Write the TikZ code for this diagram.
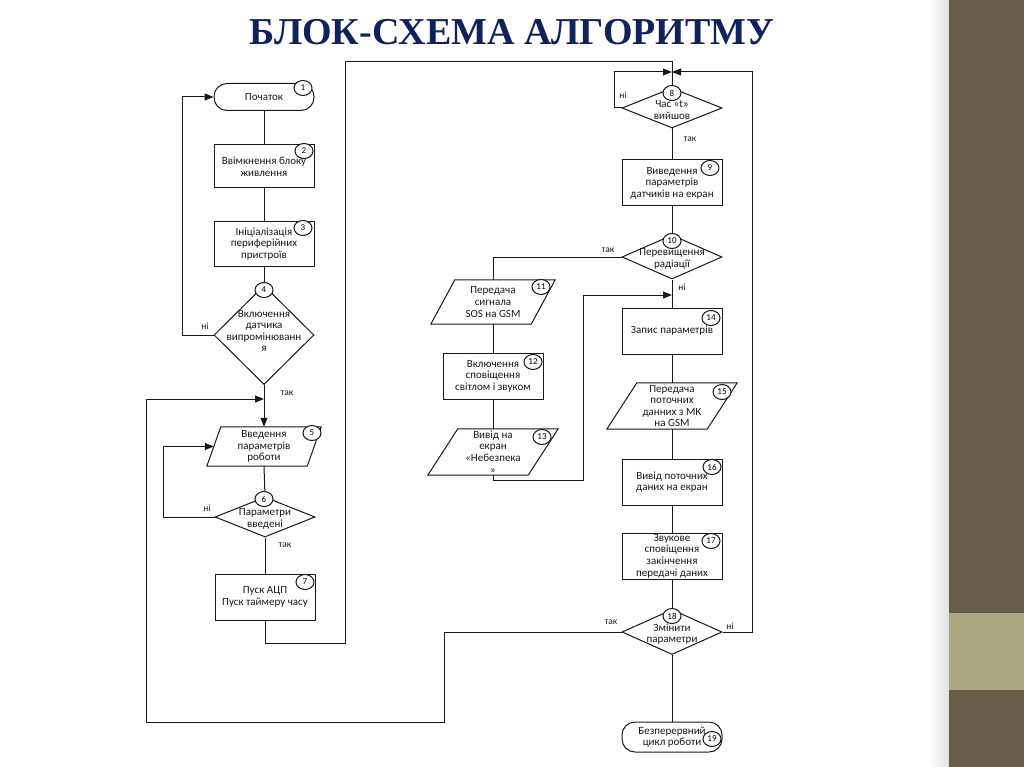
\documentclass[tikz,border=0pt]{standalone}
\usepackage{fontspec}
\setmainfont{Carlito}
\newfontfamily\titlefont{Liberation Serif}
\usetikzlibrary{arrows.meta,shapes.geometric}
\definecolor{barc}{RGB}{101,93,72}
\definecolor{bandc}{RGB}{171,168,128}
\definecolor{titlec}{RGB}{16,34,90}
\definecolor{linec}{RGB}{25,25,25}
\tikzset{
  txt/.style={font=\fontsize{11}{11.6}\selectfont,text=linec},
  base/.style={draw=linec,line width=1pt,inner sep=0pt,align=center,txt},
  proc/.style={base,rectangle,minimum width=100pt,minimum height=46pt},
  term/.style={base,rectangle,rounded corners=13pt,minimum width=100pt,minimum height=28pt},
  dec/.style={base,diamond,minimum width=100pt,minimum height=#1,aspect=1},
  io/.style={draw=none,inner sep=0pt,align=center,txt,minimum width=100pt,minimum height=46pt},
  dtext/.style={inner sep=0pt,align=center,txt},
  num/.style={draw=linec,line width=1pt,fill=white,ellipse,minimum width=18pt,minimum height=15pt,inner sep=0pt,font=\fontsize{9}{9}\selectfont},
  lbl/.style={font=\fontsize{9.5}{9.5}\selectfont,inner sep=0pt,text=linec},
  conn/.style={draw=linec,line width=1pt},
  arr/.style={conn,-{Triangle[length=9pt,width=7pt]}}
}
\newcommand\pgram[2]{\draw[conn] ([xshift=#2]#1.north west) -- ([xshift=#2]#1.north east) -- ([xshift=-#2]#1.south east) -- ([xshift=-#2]#1.south west) -- cycle;}
\begin{document}
\begin{tikzpicture}[x=1pt,y=-1pt]
\useasboundingbox (0,0) rectangle (1024,767);
\fill[white] (0,0) rectangle (1024,767);
\shade[left color=white,right color=black!12] (930,0) rectangle (949,767);
\fill[barc] (949,0) rectangle (1024,767);
\fill[bandc] (949,613) rectangle (1024,690);
\node[font=\titlefont\bfseries\fontsize{38}{38}\selectfont,text=titlec] (title) at (512,32) {БЛОК-СХЕМА АЛГОРИТМУ};

% left column
\node[term,minimum height=27pt] (n1) at (264,97) {Початок};
\node[proc,minimum height=43pt] (n2) at (264,166.5) {Ввімкнення блоку\\живлення};
\node[proc,minimum height=44pt] (n3) at (264,244) {Ініціалізація\\периферійних\\пристроїв};
\node[dec=99pt] (n4) at (264,335) {};
\node[dtext] (t4) at (264,331) {Включення\\датчика\\випромінюванн\\я};
\node[io,minimum height=39pt] (n5) at (264,446.5) {Введення\\параметрів\\роботи};
\pgram{n5}{7pt}
\node[dec=40pt] (n6) at (265,517) {};
\node[dtext] (t6) at (265,519) {Параметри\\введені};
\node[proc] (n7) at (265,597) {Пуск АЦП\\Пуск таймеру часу};

% right column
\node[dec=40pt] (n8) at (672,108) {};
\node[dtext] (t8) at (672,110) {Час «t»\\вийшов};
\node[proc] (n9) at (672,183) {Виведення\\параметрів\\датчиків  на екран};
\node[dec=44pt] (n10) at (672,257) {};
\node[dtext] (t10) at (672,259) {Перевищення\\радіації};
\node[io,minimum height=44pt] (n11) at (493,302) {Передача\\сигнала\\SOS на GSM};
\pgram{n11}{12pt}
\node[proc] (n12) at (493,376) {Включення\\сповіщення\\світлом і звуком};
\node[io,minimum height=46pt] (n13) at (493,452) {Вивід на\\екран\\«Небезпека\\»};
\pgram{n13}{15pt}
\node[proc] (n14) at (672,331) {Запис параметрів};
\node[io,minimum height=46pt] (n15) at (672,406) {Передача\\поточних\\данних з МК\\на GSM};
\pgram{n15}{15pt}
\node[proc] (n16) at (672,482) {Вивід поточних\\даних на екран};
\node[proc] (n17) at (672,556) {Звукове\\сповіщення\\закінчення\\передачі даних};
\node[dec=45pt] (n18) at (672,632) {};
\node[dtext] (t18) at (672,634) {Змінити\\параметри};
\node[term,minimum height=30pt] (n19) at (672,737) {Безперервний\\цикл роботи};

% junction coordinates
\coordinate (j5) at (264,399);
\coordinate (a1) at (444,722);
\coordinate (a2) at (146,399);
\coordinate (b1) at (345,643);
\coordinate (b2) at (672,62);
\coordinate (j8) at (672,72);
\coordinate (b3) at (614,72);
\coordinate (b4) at (752,72);
\coordinate (b5) at (583,480);
\coordinate (j10) at (672,295);

% connectors
\draw[conn] (n1.south) -- (n2.north);
\draw[conn] (n2.south) -- (n3.north);
\draw[conn] (n3.south) -- (n4.north);
\draw[arr] (n4.west) -- ++(-31,0) |- (n1.west);
\draw[arr] (n4.south) -- (n5.north);
\draw[arr] (n18.west) -| (a1) -| (a2) -- (j5);
\draw[conn] (n5.south) -- (n6.north);
\draw[arr] (n6.west) -- ++(-51,0) |- (n5.west);
\draw[conn] (n6.south) -- (n7.north);
\draw[conn] (n7.south) |- (b1) |- (b2) -- (j8);
\draw[conn] (j8) -- (n8.north);
\draw[arr] (n8.west) -| (b3) -- (j8);
\draw[arr] (n18.east) -| (b4) -- (j8);
\draw[conn] (n8.south) -- (n9.north);
\draw[conn] (n9.south) -- (n10.north);
\draw[conn] (n10.west) -| (n11.north);
\draw[conn] (n10.south) -- (n14.north);
\draw[conn] (n11.south) -- (n12.north);
\draw[conn] (n12.south) -- (n13.north);
\draw[arr] (n13.south) |- (b5) |- (j10);
\draw[conn] (n14.south) -- (n15.north);
\draw[conn] (n15.south) -- (n16.north);
\draw[conn] (n16.south) -- (n17.north);
\draw[conn] (n17.south) -- (n18.north);
\draw[conn] (n18.south) -- (n19.north);

% number circles
\node[num] (c1) at (303,88) {1};
\node[num] (c2) at (304,151) {2};
\node[num] (c3) at (303,228) {3};
\node[num] (c4) at (264,290) {4};
\node[num] (c5) at (312,433) {5};
\node[num] (c6) at (264,499) {6};
\node[num] (c7) at (305,582) {7};
\node[num] (c8) at (672,93) {8};
\node[num] (c9) at (710,168) {9};
\node[num] (c10) at (672,241) {10};
\node[num] (c11) at (541,287) {11};
\node[num] (c12) at (533,362) {12};
\node[num] (c13) at (542,437) {13};
\node[num] (c14) at (711,318) {14};
\node[num] (c15) at (722,392) {15};
\node[num] (c16) at (712,467) {16};
\node[num] (c17) at (711,541) {17};
\node[num] (c18) at (672,616) {18};
\node[num] (c19) at (712,739) {19};

% branch labels
\node[lbl] (l1) at (205,326) {ні};
\node[lbl] (l2) at (287,393) {так};
\node[lbl] (l3) at (207,508) {ні};
\node[lbl] (l4) at (285,545) {так};
\node[lbl] (l5) at (623,95) {ні};
\node[lbl] (l6) at (690,139) {так};
\node[lbl] (l7) at (608,250) {так};
\node[lbl] (l8) at (682,287) {ні};
\node[lbl] (l9) at (730,626) {ні};
\node[lbl] (l10) at (611,622) {так};
\end{tikzpicture}
\end{document}
